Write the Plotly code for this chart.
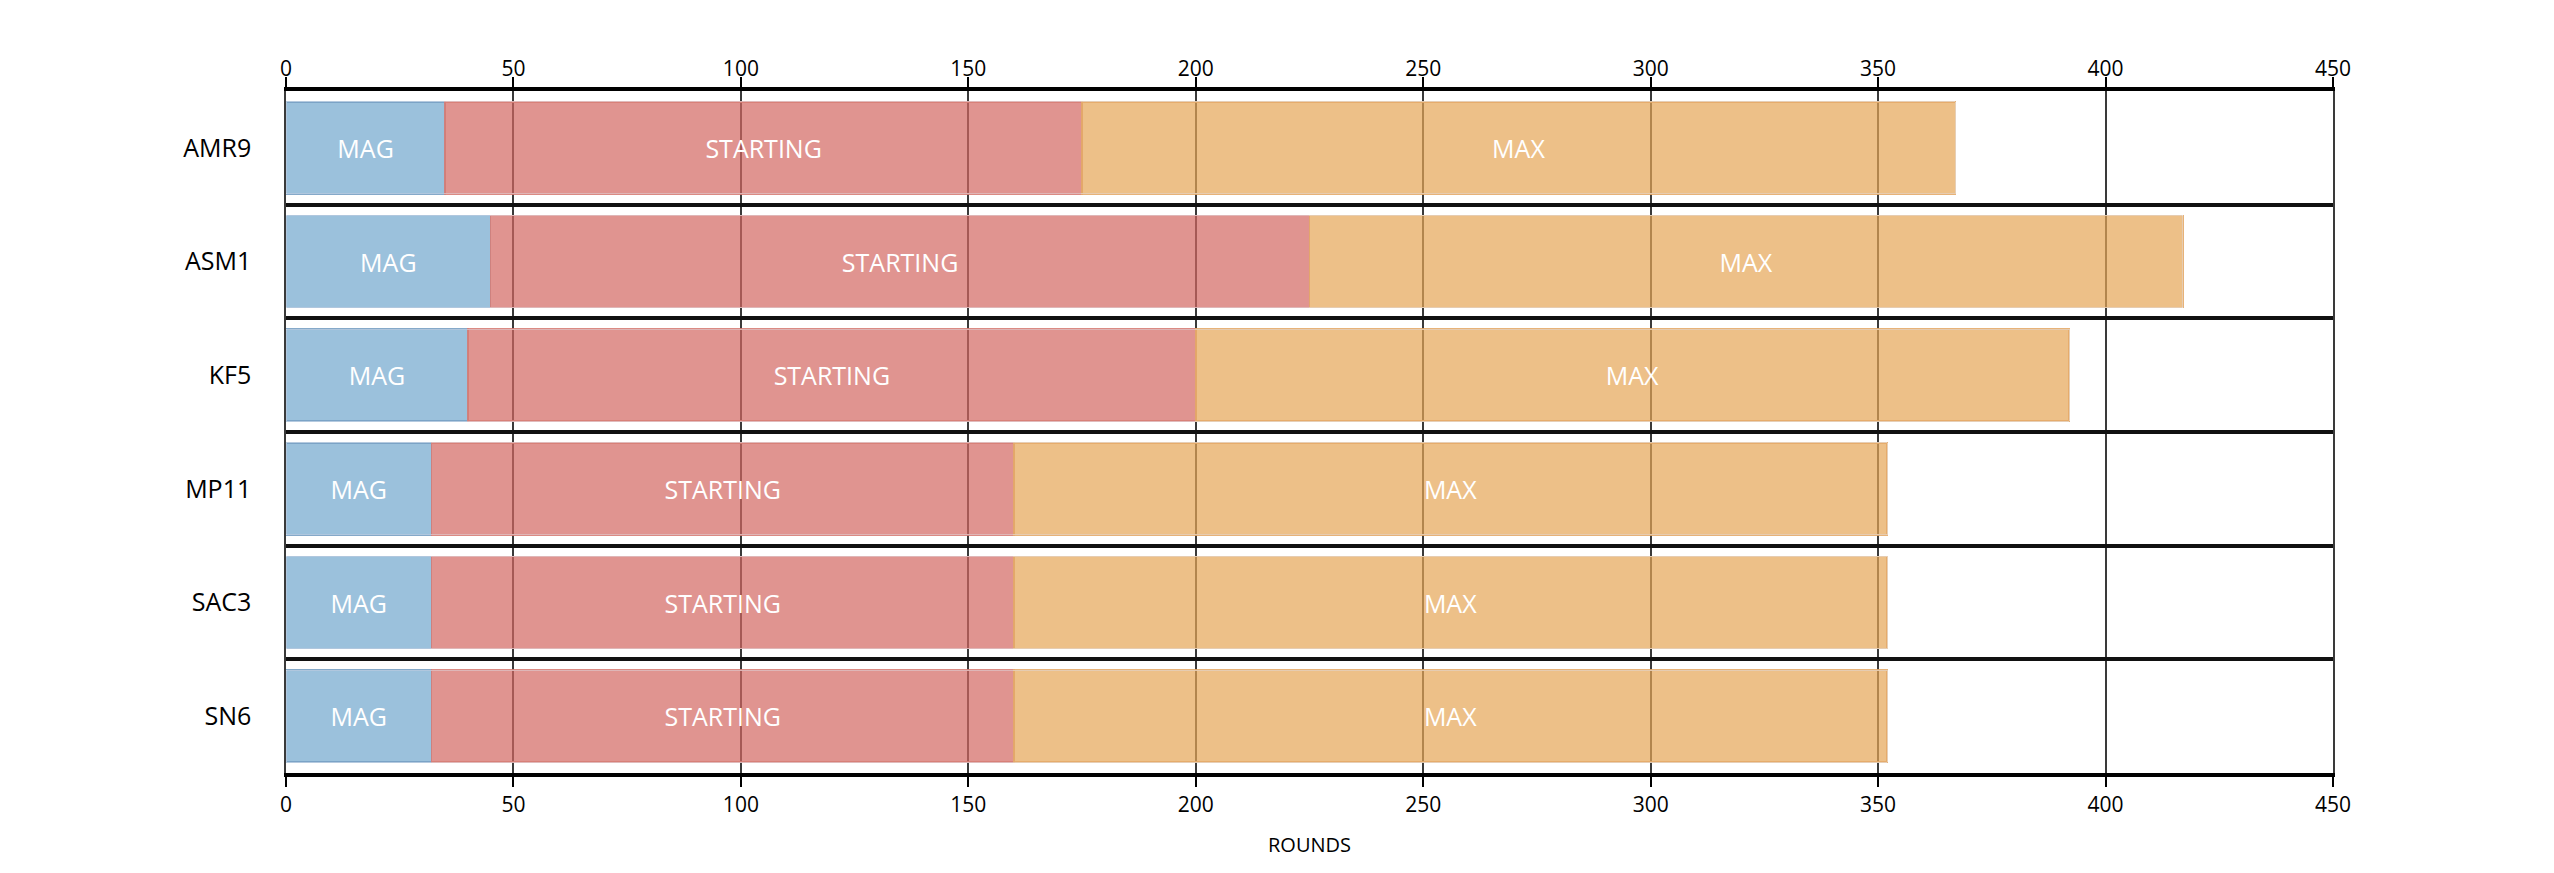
import plotly.graph_objects as go

# rows, top to bottom
names = ["AMR9", "ASM1", "KF5", "MP11", "SAC3", "SN6"]

# stacked segment lengths (rounds)
mag = [35, 45, 40, 32, 32, 32]
starting = [140, 180, 160, 128, 128, 128]
max_ = [192, 192, 192, 192, 192, 192]

segments = ["MAG", "STARTING", "MAX"]
x_ticks = [0, 50, 100, 150, 200, 250, 300, 350, 400, 450]

fills = ["rgba(112,166,205,0.7)", "rgba(211,103,97,0.7)", "rgba(229,165,85,0.7)"]
edges = ["rgba(120,160,195,0.9)", "rgba(215,125,118,0.9)", "rgba(228,170,105,0.9)"]

fig = go.Figure()
for seg, vals, fc, ec in zip(segments, [mag, starting, max_], fills, edges):
    fig.add_trace(go.Bar(
        y=names, x=vals, orientation="h", name=seg,
        text=[seg] * len(names), textposition="inside",
        insidetextanchor="middle", textangle=0,
        textfont=dict(family="Open Sans", size=25, color="white"),
        marker=dict(color=fc, line=dict(color=ec, width=1.5)),
        hoverinfo="x+y+name",
    ))

# invisible copy of the totals so the top labels get drawn
totals = [a + b + c for a, b, c in zip(mag, starting, max_)]
fig.add_trace(go.Bar(
    y=names, x=totals, orientation="h", xaxis="x2", yaxis="y",
    marker=dict(color="rgba(0,0,0,0)"), hoverinfo="skip", showlegend=False,
))

# page body has an 8px margin, so the figure is a bit smaller than the window
fig.update_layout(
    width=2546, height=865,
    barmode="stack", bargap=0.19,
    showlegend=False,
    plot_bgcolor="white", paper_bgcolor="white",
    margin=dict(l=278, r=221, t=83, b=100),
    font=dict(family="Open Sans", color="black"),
    xaxis=dict(
        range=[0, 450], tickvals=x_ticks, zeroline=False,
        showline=True, mirror="allticks", linecolor="black", linewidth=4,
        ticks="outside", ticklen=10, tickwidth=2, tickcolor="black",
        tickfont=dict(size=21),
        showgrid=True, gridcolor="#3a3a3a", gridwidth=1.5,
        title=dict(text="ROUNDS", font=dict(size=20), standoff=22),
    ),
    xaxis2=dict(
        range=[0, 450], tickvals=x_ticks, overlaying="x", side="top",
        anchor="y", showgrid=False, zeroline=False, showline=False,
        ticks="", ticklabelstandoff=10, tickfont=dict(size=21),
    ),
    yaxis=dict(
        type="category", categoryorder="array", categoryarray=names,
        autorange="reversed", tickson="boundaries",
        showgrid=True, gridcolor="#111111", gridwidth=4,
        showline=True, mirror=True, linecolor="#3a3a3a", linewidth=1.5,
        ticks="", ticklabelstandoff=28, zeroline=False,
        tickfont=dict(size=25),
    ),
)

fig.write_html("out.html")
